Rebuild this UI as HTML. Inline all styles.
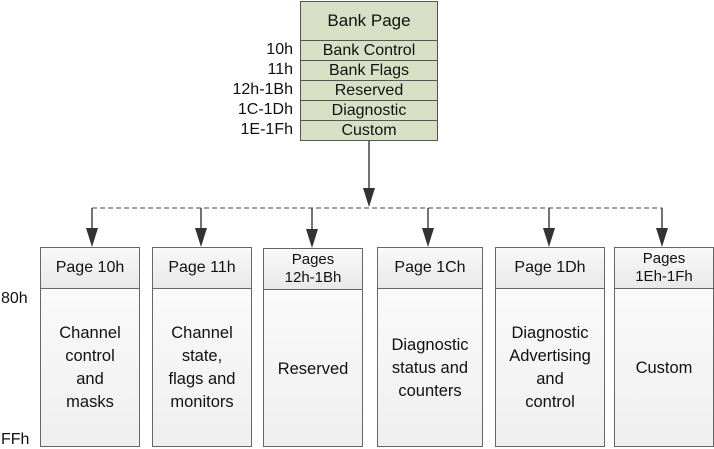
<!DOCTYPE html>
<html><head><style>
body{margin:0;width:714px;height:448px;background:#fff;position:relative;overflow:hidden;font-family:"Liberation Sans",sans-serif;color:#111}
.t{position:absolute;left:300px;width:138px;border:1px solid #555;background:#d9dfc4;box-sizing:border-box;text-align:center;font-size:16px}
.l{position:absolute;right:421px;font-size:16px;text-align:right;line-height:20px}
.b{position:absolute;top:247px;height:200px;border:1px solid #666;box-sizing:border-box;background:linear-gradient(#fdfdfd,#efefef)}
.h{height:40px;border-bottom:1px solid #666;background:linear-gradient(#f9f9f9,#e8e8e8);display:flex;align-items:center;justify-content:center;text-align:center;font-size:16px;line-height:18px}
.h.s{font-size:15px}
.c{height:158px;display:flex;align-items:center;justify-content:center;text-align:center;font-size:16.5px;line-height:23px}
.s2{position:absolute;font-size:16px}
</style></head><body>
<div class="t" style="top:1px;height:40px;line-height:38px;font-size:17px">Bank Page</div>
<div class="t" style="top:40px;height:21px;line-height:19px">Bank Control</div>
<div class="t" style="top:60px;height:21px;line-height:19px">Bank Flags</div>
<div class="t" style="top:80px;height:21px;line-height:19px">Reserved</div>
<div class="t" style="top:100px;height:21px;line-height:19px">Diagnostic</div>
<div class="t" style="top:120px;height:21px;line-height:19px">Custom</div>
<div class="l" style="top:40px">10h</div>
<div class="l" style="top:60px">11h</div>
<div class="l" style="top:80px">12h-1Bh</div>
<div class="l" style="top:100px">1C-1Dh</div>
<div class="l" style="top:120px">1E-1Fh</div>
<svg width="714" height="448" style="position:absolute;left:0;top:0">
<g stroke="#444" stroke-width="1.5" fill="#333">
<line x1="369" y1="141" x2="369" y2="190"/><polygon points="363,188 375,188 369,207" stroke="none"/>
<line x1="92" y1="208" x2="662" y2="208" stroke-dasharray="5,3" stroke-width="1"/>
<line x1="92" y1="208" x2="92" y2="230"/><polygon points="86,228 98,228 92,247" stroke="none"/>
<line x1="201" y1="208" x2="201" y2="230"/><polygon points="195,228 207,228 201,247" stroke="none"/>
<line x1="312" y1="208" x2="312" y2="231"/><polygon points="306,229 318,229 312,248" stroke="none"/>
<line x1="428" y1="208" x2="428" y2="230"/><polygon points="422,228 434,228 428,247" stroke="none"/>
<line x1="549" y1="208" x2="549" y2="230"/><polygon points="543,228 555,228 549,247" stroke="none"/>
<line x1="662" y1="208" x2="662" y2="230"/><polygon points="656,228 668,228 662,247" stroke="none"/>
</g></svg>
<div class="s2" style="left:1px;top:290px">80h</div>
<div class="s2" style="left:1px;top:431px">FFh</div>
<div class="b" style="left:40px;width:100px"><div class="h">Page 10h</div><div class="c">Channel<br>control<br>and<br>masks</div></div>
<div class="b" style="left:152px;width:100px"><div class="h">Page 11h</div><div class="c">Channel<br>state,<br>flags and<br>monitors</div></div>
<div class="b" style="left:263px;width:100px;top:248px;height:199px"><div class="h s">Pages<br>12h-1Bh</div><div class="c">Reserved</div></div>
<div class="b" style="left:377px;width:106px"><div class="h">Page 1Ch</div><div class="c">Diagnostic<br>status and<br>counters</div></div>
<div class="b" style="left:495px;width:110px"><div class="h">Page 1Dh</div><div class="c">Diagnostic<br>Advertising<br>and<br>control</div></div>
<div class="b" style="left:614px;width:100px"><div class="h s">Pages<br>1Eh-1Fh</div><div class="c">Custom</div></div>
</body></html>
